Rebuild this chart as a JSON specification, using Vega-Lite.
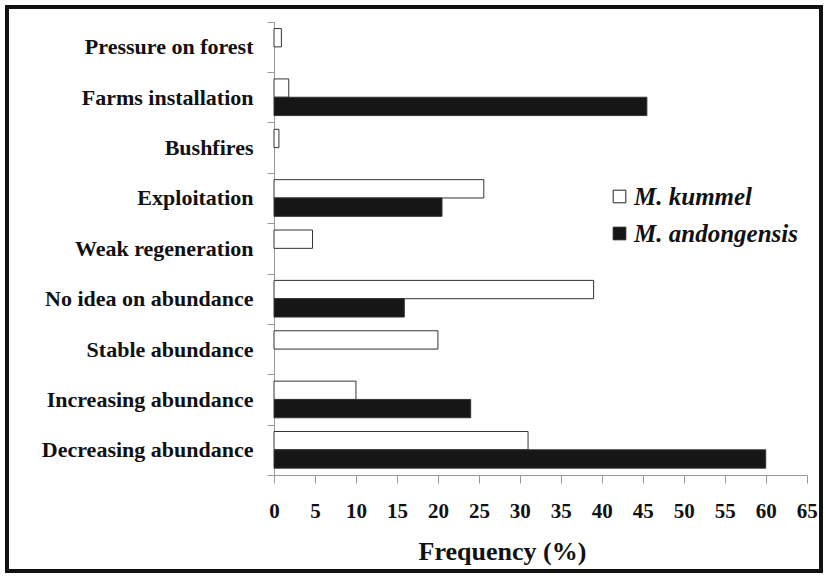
{
  "$schema": "https://vega.github.io/schema/vega-lite/v6.json",
  "autosize": "none",
  "width": 814,
  "height": 564,
  "padding": {"left": 7, "top": 7, "right": 5, "bottom": 6},
  "background": "white",
  "config": {
    "view": {"stroke": "#111111", "strokeWidth": 4},
    "font": "Liberation Serif"
  },
  "data": {
    "values": [
      {"cause": "Pressure on forest", "species": "M. kummel", "freq": 0.9},
      {"cause": "Farms installation", "species": "M. kummel", "freq": 1.8},
      {"cause": "Farms installation", "species": "M. andongensis", "freq": 45.5},
      {"cause": "Bushfires", "species": "M. kummel", "freq": 0.6},
      {"cause": "Exploitation", "species": "M. kummel", "freq": 25.6},
      {"cause": "Exploitation", "species": "M. andongensis", "freq": 20.5},
      {"cause": "Weak regeneration", "species": "M. kummel", "freq": 4.7},
      {"cause": "No idea on abundance", "species": "M. kummel", "freq": 39},
      {"cause": "No idea on abundance", "species": "M. andongensis", "freq": 15.9},
      {"cause": "Stable abundance", "species": "M. kummel", "freq": 20},
      {"cause": "Increasing abundance", "species": "M. kummel", "freq": 10},
      {"cause": "Increasing abundance", "species": "M. andongensis", "freq": 24},
      {"cause": "Decreasing abundance", "species": "M. kummel", "freq": 31},
      {"cause": "Decreasing abundance", "species": "M. andongensis", "freq": 60}
    ]
  },
  "mark": {"type": "bar", "stroke": "#333333", "strokeWidth": 1},
  "encoding": {
    "y": {
      "field": "cause",
      "type": "nominal",
      "sort": ["Pressure on forest", "Farms installation", "Bushfires", "Exploitation", "Weak regeneration", "No idea on abundance", "Stable abundance", "Increasing abundance", "Decreasing abundance"],
      "scale": {"range": [14.7, 468], "paddingInner": 0, "paddingOuter": 0},
      "axis": {
        "title": null,
        "offset": -267,
        "grid": false,
        "domainColor": "#999999",
        "tickColor": "#999999",
        "tickSize": 7,
        "tickBand": "extent",
        "labelFontSize": 22,
        "labelFontWeight": "bold",
        "labelColor": "#111111",
        "labelPadding": 14,
        "labelLimit": 400
      }
    },
    "yOffset": {
      "field": "species",
      "type": "nominal",
      "sort": ["M. kummel", "M. andongensis"],
      "scale": {"paddingInner": 0, "paddingOuter": 0.375}
    },
    "x": {
      "field": "freq",
      "type": "quantitative",
      "scale": {"domain": [0, 65], "range": [267, 799.7], "nice": false, "zero": true},
      "axis": {
        "values": [0, 5, 10, 15, 20, 25, 30, 35, 40, 45, 50, 55, 60, 65],
        "offset": -96,
        "grid": false,
        "domainColor": "#999999",
        "tickColor": "#999999",
        "tickSize": 8,
        "labelPadding": 17,
        "labelFontSize": 21,
        "labelFontWeight": "bold",
        "labelColor": "#111111",
        "labelFlush": false,
        "labelOverlap": false,
        "title": "Frequency (%)",
        "titleFontSize": 26,
        "titleFontWeight": "bold",
        "titleColor": "#111111",
        "titleX": 495,
        "titleY": 84,
        "titleBaseline": "alphabetic",
        "titleAlign": "center"
      }
    },
    "fill": {
      "field": "species",
      "type": "nominal",
      "scale": {"domain": ["M. kummel", "M. andongensis"], "range": ["#ffffff", "#161616"]},
      "legend": {
        "title": null,
        "orient": "none",
        "legendX": 600,
        "legendY": 177,
        "symbolType": "square",
        "symbolSize": 160,
        "symbolStrokeColor": "#222222",
        "symbolStrokeWidth": 1,
        "labelFont": "Liberation Serif",
        "labelFontSize": 25,
        "labelFontStyle": "italic",
        "labelFontWeight": "bold",
        "labelColor": "#111111",
        "labelOffset": 2,
        "labelLimit": 400,
        "rowPadding": 11
      }
    }
  }
}
